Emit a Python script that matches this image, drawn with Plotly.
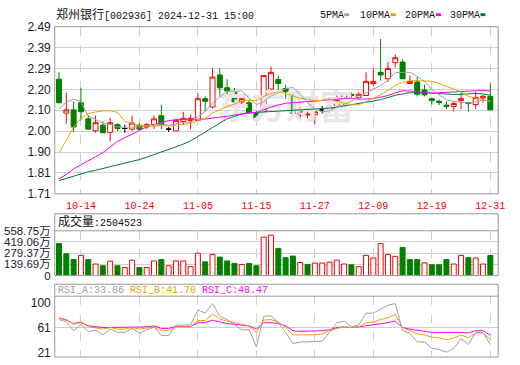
import plotly.graph_objects as go

# ---------------- data ----------------
dates = ["10-09","10-10","10-11","10-14","10-15","10-16","10-17","10-18","10-21","10-22",
         "10-23","10-24","10-25","10-28","10-29","10-30","10-31","11-01","11-04","11-05",
         "11-06","11-07","11-08","11-11","11-12","11-13","11-14","11-15","11-18","11-19",
         "11-20","11-21","11-22","11-25","11-26","11-27","11-28","11-29","12-02","12-03",
         "12-04","12-05","12-06","12-09","12-10","12-11","12-12","12-13","12-16","12-17",
         "12-18","12-19","12-20","12-23","12-24","12-25","12-26","12-27","12-30","12-31"]
label_dates = ["10-14","10-24","11-05","11-15","11-27","12-09","12-19","12-31"]

opens = [2.245,2.087,2.102,2.135,2.060,2.004,2.030,1.997,2.033,2.015,
         2.012,2.030,2.022,2.034,2.075,2.012,2.004,2.048,2.052,2.052,
         2.154,2.115,2.265,2.205,2.184,2.139,2.135,2.085,2.094,2.199,
         2.244,2.202,2.165,2.078,2.078,2.079,2.102,2.094,2.120,2.160,
         2.175,2.160,2.169,2.225,2.277,2.247,2.322,2.325,2.225,2.232,
         2.195,2.154,2.142,2.124,2.117,2.145,2.135,2.127,2.157,2.165]
highs = [2.278,2.182,2.142,2.205,2.075,2.075,2.049,2.064,2.040,2.033,
         2.075,2.040,2.040,2.075,2.124,2.022,2.060,2.093,2.079,2.182,
         2.165,2.295,2.295,2.245,2.205,2.172,2.150,2.097,2.262,2.304,
         2.262,2.219,2.180,2.115,2.097,2.093,2.120,2.139,2.172,2.180,
         2.184,2.184,2.277,2.295,2.433,2.325,2.360,2.337,2.262,2.255,
         2.220,2.160,2.150,2.142,2.139,2.183,2.139,2.187,2.172,2.225]
lows = [2.134,2.037,1.997,2.052,2.012,1.995,1.995,1.954,2.003,1.995,
        2.003,2.007,2.012,2.012,2.012,1.999,2.004,2.030,2.012,2.052,
        2.094,2.109,2.165,2.172,2.127,2.124,2.087,2.055,2.087,2.199,
        2.195,2.154,2.085,2.055,2.052,2.037,2.085,2.090,2.109,2.157,
        2.157,2.150,2.169,2.214,2.238,2.232,2.300,2.247,2.225,2.165,
        2.165,2.127,2.124,2.105,2.094,2.105,2.094,2.105,2.135,2.102]
closes = [2.135,2.102,2.022,2.093,2.012,2.042,1.995,2.042,2.015,2.015,
          2.040,2.012,2.034,2.060,2.034,2.012,2.052,2.063,2.063,2.154,
          2.142,2.255,2.205,2.190,2.139,2.154,2.087,2.055,2.262,2.277,
          2.225,2.187,2.085,2.094,2.082,2.093,2.102,2.120,2.150,2.180,
          2.169,2.175,2.235,2.235,2.265,2.295,2.345,2.247,2.235,2.175,
          2.172,2.145,2.136,2.118,2.132,2.154,2.132,2.160,2.165,2.102]

ma5 = [2.105,2.138,2.152,2.140,2.074,2.058,2.040,2.034,2.022,2.021,
       2.021,2.024,2.023,2.032,2.036,2.030,2.038,2.044,2.045,2.069,
       2.095,2.135,2.164,2.190,2.188,2.190,2.157,2.127,2.139,2.167,
       2.181,2.201,2.207,2.174,2.135,2.108,2.091,2.098,2.113,2.129,
       2.144,2.158,2.182,2.199,2.216,2.241,2.275,2.277,2.277,2.259,
       2.235,2.195,2.173,2.149,2.141,2.137,2.134,2.139,2.148,2.142]
ma10 = [1.900,1.962,2.022,2.062,2.085,2.092,2.097,2.098,2.090,2.049,
        2.038,2.029,2.030,2.026,2.029,2.026,2.031,2.033,2.038,2.052,
        2.062,2.087,2.104,2.118,2.128,2.143,2.146,2.145,2.165,2.178,
        2.186,2.179,2.167,2.156,2.151,2.145,2.146,2.153,2.141,2.132,
        2.126,2.125,2.140,2.154,2.172,2.192,2.217,2.230,2.238,2.238,
        2.238,2.235,2.225,2.213,2.200,2.186,2.165,2.156,2.149,2.141]
ma20 = [1.780,1.800,1.827,1.846,1.865,1.884,1.902,1.928,1.955,1.972,
        1.990,2.006,2.022,2.033,2.044,2.052,2.056,2.058,2.060,2.059,
        2.059,2.062,2.068,2.072,2.078,2.084,2.089,2.089,2.102,2.115,
        2.124,2.133,2.135,2.137,2.140,2.144,2.146,2.149,2.153,2.155,
        2.156,2.152,2.153,2.155,2.161,2.169,2.181,2.191,2.190,2.185,
        2.182,2.180,2.182,2.184,2.186,2.189,2.191,2.193,2.193,2.190]
ma30 = [1.772,1.783,1.793,1.803,1.813,1.820,1.828,1.836,1.844,1.852,
        1.861,1.870,1.881,1.893,1.905,1.917,1.929,1.942,1.957,1.976,
        1.998,2.020,2.040,2.060,2.072,2.082,2.088,2.090,2.092,2.092,
        2.095,2.098,2.100,2.100,2.103,2.104,2.108,2.110,2.115,2.120,
        2.125,2.130,2.137,2.143,2.150,2.160,2.170,2.176,2.182,2.182,
        2.183,2.180,2.177,2.175,2.174,2.174,2.176,2.179,2.176,2.170]

vol_wan = [399,271,199,252,199,144,123,180,123,100,
           192,100,100,183,199,123,183,183,111,279,
           171,264,231,183,151,139,151,123,480,504,
           339,223,243,163,139,156,156,168,192,144,
           135,111,252,219,399,264,240,351,199,199,
           159,135,135,199,144,252,223,219,144,250.4523]
vol_up = [0,0,0,1,0,1,0,1,0,1,
          1,0,1,1,0,1,1,1,1,1,
          0,1,0,0,0,1,0,0,1,1,
          0,0,0,1,0,1,1,1,1,1,
          0,1,1,1,1,1,1,0,0,0,
          1,0,0,0,1,1,0,1,1,0]

rsi_a = [73.7,69.7,55.9,66.1,54.4,56.9,49.3,58.4,53.3,53.3,
         59.5,52.3,57.4,62.0,48.2,48.2,64.6,65.1,65.1,89.0,
         83.9,99.2,78.8,73.7,66.1,57.4,57.4,30.3,78.8,79.8,
         68.7,53.3,35.4,38.0,38.0,39.0,39.5,53.3,68.7,71.2,
         62.0,65.1,83.9,83.9,90.0,96.7,99.0,55.9,51.8,38.0,
         38.0,27.8,26.2,21.6,27.8,43.1,33.9,53.3,53.3,33.86]
rsi_b = [76.3,73.7,66.1,68.7,62.5,60.0,58.4,61.0,58.4,58.4,
         61.0,58.4,60.0,62.0,55.9,55.9,62.0,62.0,62.0,72.2,
         72.2,82.4,74.7,71.2,68.7,66.1,63.6,53.3,72.7,73.7,
         69.7,61.0,49.3,49.3,49.3,49.3,50.8,55.9,59.5,62.0,
         61.0,62.0,68.7,69.7,73.7,76.3,82.4,61.0,55.9,50.8,
         49.3,45.7,44.7,41.6,44.2,49.3,44.7,52.3,52.3,41.70]
rsi_c = [76.3,72.7,67.1,69.7,63.6,62.0,61.0,61.0,61.0,61.0,
         62.0,61.0,62.0,63.6,59.5,59.5,62.5,62.5,62.5,68.7,
         68.7,72.7,70.2,67.1,66.1,64.6,63.6,58.4,68.7,68.7,
         67.6,63.6,55.9,54.9,54.9,55.9,55.9,57.4,61.0,62.0,
         61.0,62.0,63.6,64.6,66.1,68.7,71.2,61.0,58.4,56.9,
         55.9,53.3,53.3,53.3,54.4,53.3,52.3,55.9,55.9,48.47]

price_ticks = [1.71, 1.8075, 1.905, 2.0025, 2.10, 2.1975, 2.295, 2.3925, 2.49]
price_tick_text = ["1.71","1.81","1.90","2.00","2.10","2.20","2.29","2.39","2.49"]
vol_ticks = [0, 1396875, 2793750, 4190625, 5587500]
vol_tick_text = ["0","139.69万","279.37万","419.06万","558.75万"]
rsi_ticks = [100, 61, 21]
rsi_tick_text = ["100", "61", "21"]

title_text = "郑州银行[002936] 2024-12-31 15:00"
last_volume = "2504523"
rsi_last = ["33.86", "41.70", "48.47"]

# ---------------- styling / layout geometry ----------------
W, H = 520, 365
def px(x): return x / W
def py(y): return 1 - y / H

XL, XR = 55.5, 505.0
MAIN_TOP, MAIN_BOT = 20.5, 194.3
VOL_BOX_TOP, VOL_TOP, VOL_BOT = 215.0, 232.7, 279.3
RSI_BOX_TOP, RSI_TOP, RSI_BOT = 288.3, 300.7, 364.0

RED = "#ff0000"
GREEN = "#008000"
C_MA5, C_MA10, C_MA20, C_MA30 = "#a0a0a0", "#f0a000", "#ff00ff", "#007a3a"
BORDER = "#999999"
GRID = "#d0d0d0"
LABEL = "#1a1a33"
MONO = "Liberation Mono, Noto Sans CJK SC, monospace"
SANS = "Liberation Sans, Noto Sans CJK SC, sans-serif"

n = len(dates)
xr = [-0.58, n - 1 + 1.08]

fig = go.Figure()

# watermark (drawn first, behind everything)
fig.add_trace(go.Scatter(
    x=[dates[31]], y=[(price_ticks[0] + price_ticks[-1]) / 2],
    mode="text", text=["东方财富"],
    textfont=dict(family="Noto Sans CJK SC", size=34, color="#e6e6ec", weight="bold"),
    xaxis="x", yaxis="y", hoverinfo="skip", showlegend=False))

# moving averages
for vals, col in [(ma30, C_MA30), (ma20, C_MA20), (ma10, C_MA10), (ma5, C_MA5)]:
    fig.add_trace(go.Scatter(x=dates, y=vals, mode="lines",
                             line=dict(color=col, width=1),
                             xaxis="x", yaxis="y", hoverinfo="skip", showlegend=False))

# candles (non-doji)
idx = [i for i in range(n) if opens[i] != closes[i]]
fig.add_trace(go.Candlestick(
    x=[dates[i] for i in idx], open=[opens[i] for i in idx], high=[highs[i] for i in idx],
    low=[lows[i] for i in idx], close=[closes[i] for i in idx],
    increasing=dict(line=dict(color=RED, width=1), fillcolor="white"),
    decreasing=dict(line=dict(color=GREEN, width=1), fillcolor=GREEN),
    whiskerwidth=0, xaxis="x", yaxis="y", hoverinfo="skip", showlegend=False))
# doji candles (black crosses)
didx = [i for i in range(n) if opens[i] == closes[i]]
fig.add_trace(go.Candlestick(
    x=[dates[i] for i in didx], open=[opens[i] for i in didx], high=[highs[i] for i in didx],
    low=[lows[i] for i in didx], close=[closes[i] for i in didx],
    increasing=dict(line=dict(color="black", width=1), fillcolor="black"),
    decreasing=dict(line=dict(color="black", width=1), fillcolor="black"),
    whiskerwidth=0, xaxis="x", yaxis="y", hoverinfo="skip", showlegend=False))

# volume
vol = [v * 10000 for v in vol_wan]
fig.add_trace(go.Bar(
    x=dates, y=vol,
    marker=dict(color=["white" if u else GREEN for u in vol_up],
                line=dict(color=[RED if u else GREEN for u in vol_up], width=1)),
    xaxis="x2", yaxis="y2", hoverinfo="skip", showlegend=False))

# RSI
for vals, col in [(rsi_c, C_MA20), (rsi_b, C_MA10), (rsi_a, C_MA5)]:
    fig.add_trace(go.Scatter(x=dates, y=vals, mode="lines", line=dict(color=col, width=1),
                             xaxis="x3", yaxis="y3", hoverinfo="skip", showlegend=False))

xcommon = dict(type="category", categoryorder="array", categoryarray=dates,
               range=xr, domain=[px(XL), px(XR)],
               tickvals=label_dates, ticktext=label_dates,
               showgrid=True, gridcolor=GRID, griddash="dash", gridwidth=1,
               zeroline=False, showline=False, ticks="", fixedrange=True)
ycommon = dict(zeroline=False, showline=False, ticks="", fixedrange=True,
               tickfont=dict(family=SANS, size=12, color=LABEL), ticklabelstandoff=3)

shapes = []
def rect(x0, y0, x1, y1, color=BORDER, fill=None):
    return dict(type="rect", xref="paper", yref="paper", x0=px(x0), x1=px(x1),
                y0=py(y1), y1=py(y0), line=dict(color=color, width=1),
                fillcolor=fill if fill else "rgba(0,0,0,0)", layer="above")
def hline(y, x0=XL, x1=XR, color=BORDER):
    return dict(type="line", xref="paper", yref="paper", x0=px(x0), x1=px(x1),
                y0=py(y), y1=py(y), line=dict(color=color, width=1), layer="above")

shapes.append(rect(XL, MAIN_TOP, XR, MAIN_BOT))
shapes.append(rect(XL, VOL_BOX_TOP, XR, VOL_BOT))
shapes.append(hline(VOL_TOP))
shapes.append(rect(XL, RSI_BOX_TOP, XR, RSI_BOT))
shapes.append(hline(RSI_TOP))
shapes.append(dict(type="line", xref="paper", yref="y3", x0=px(XL), x1=px(XR),
                   y0=rsi_ticks[1], y1=rsi_ticks[1], line=dict(color=GRID, width=1), layer="below"))

# legend markers + labels
legend_items = [("5PMA", C_MA5, 322), ("10PMA", C_MA10, 363), ("20PMA", C_MA20, 409), ("30PMA", C_MA30, 454)]
annotations = []
for name, col, x0 in legend_items:
    annotations.append(dict(text=name, x=px(x0), y=py(8.5), xref="paper", yref="paper",
                            xanchor="left", yanchor="middle", showarrow=False,
                            font=dict(family=MONO, size=10, color="#111")))
    lx = x0 + 6 * len(name) + 3
    shapes.append(dict(type="rect", xref="paper", yref="paper", x0=px(lx), x1=px(lx + 5),
                       y0=py(9.5), y1=py(6.5), line=dict(width=0), fillcolor=col, layer="above"))

cjk_title = title_text.split("[")[0]
annotations.append(dict(
    text="<span style='font-size:12px'>" + cjk_title + "</span>" + title_text[len(cjk_title):],
    x=px(55), y=py(8.5), xref="paper", yref="paper", xanchor="left", yanchor="middle",
    showarrow=False, font=dict(family=MONO, size=10, color="#111")))
annotations.append(dict(
    text="<span style='font-size:12px'>成交量</span>:" + last_volume,
    x=px(57), y=py(223.8), xref="paper", yref="paper", xanchor="left", yanchor="middle",
    showarrow=False, font=dict(family=MONO, size=10, color="#111")))
annotations.append(dict(
    text=("<span style='color:%s'>RSI_A:%s</span> <span style='color:%s'>RSI_B:%s</span> "
          "<span style='color:%s'>RSI_C:%s</span>") % (C_MA5, rsi_last[0], C_MA10, rsi_last[1],
                                                        C_MA20, rsi_last[2]),
    x=px(57), y=py(294.5), xref="paper", yref="paper", xanchor="left", yanchor="middle",
    showarrow=False, font=dict(family=MONO, size=10, color=C_MA5)))

fig.update_layout(
    width=W, height=H, margin=dict(l=0, r=0, t=0, b=0),
    paper_bgcolor="white", plot_bgcolor="white",
    showlegend=False, bargap=0.32, boxgap=0.32, boxgroupgap=0,
    xaxis=dict(**xcommon, anchor="y", showticklabels=True,
               tickfont=dict(family=MONO, size=10, color=RED), ticklabelstandoff=4,
               rangeslider=dict(visible=False)),
    xaxis2=dict(**xcommon, anchor="y2", showticklabels=False),
    xaxis3=dict(**xcommon, anchor="y3", showticklabels=False),
    yaxis=dict(**ycommon, domain=[py(MAIN_BOT), py(MAIN_TOP)], range=[price_ticks[0], price_ticks[-1]],
               tickvals=price_ticks, ticktext=price_tick_text, showgrid=True, gridcolor=GRID),
    yaxis2=dict(**{**ycommon, "tickfont": dict(family=SANS, size=11.5, color=LABEL)},
                domain=[py(VOL_BOT), py(VOL_TOP)], range=[0, vol_ticks[-1]],
                tickvals=vol_ticks, ticktext=vol_tick_text, showgrid=True, gridcolor=GRID),
    yaxis3=dict(**ycommon, domain=[py(RSI_BOT), py(RSI_TOP)], range=[14.0, 110.9],
                tickvals=rsi_ticks, ticktext=rsi_tick_text, showgrid=False),
    shapes=shapes, annotations=annotations,
)

fig.write_html("out.html")
